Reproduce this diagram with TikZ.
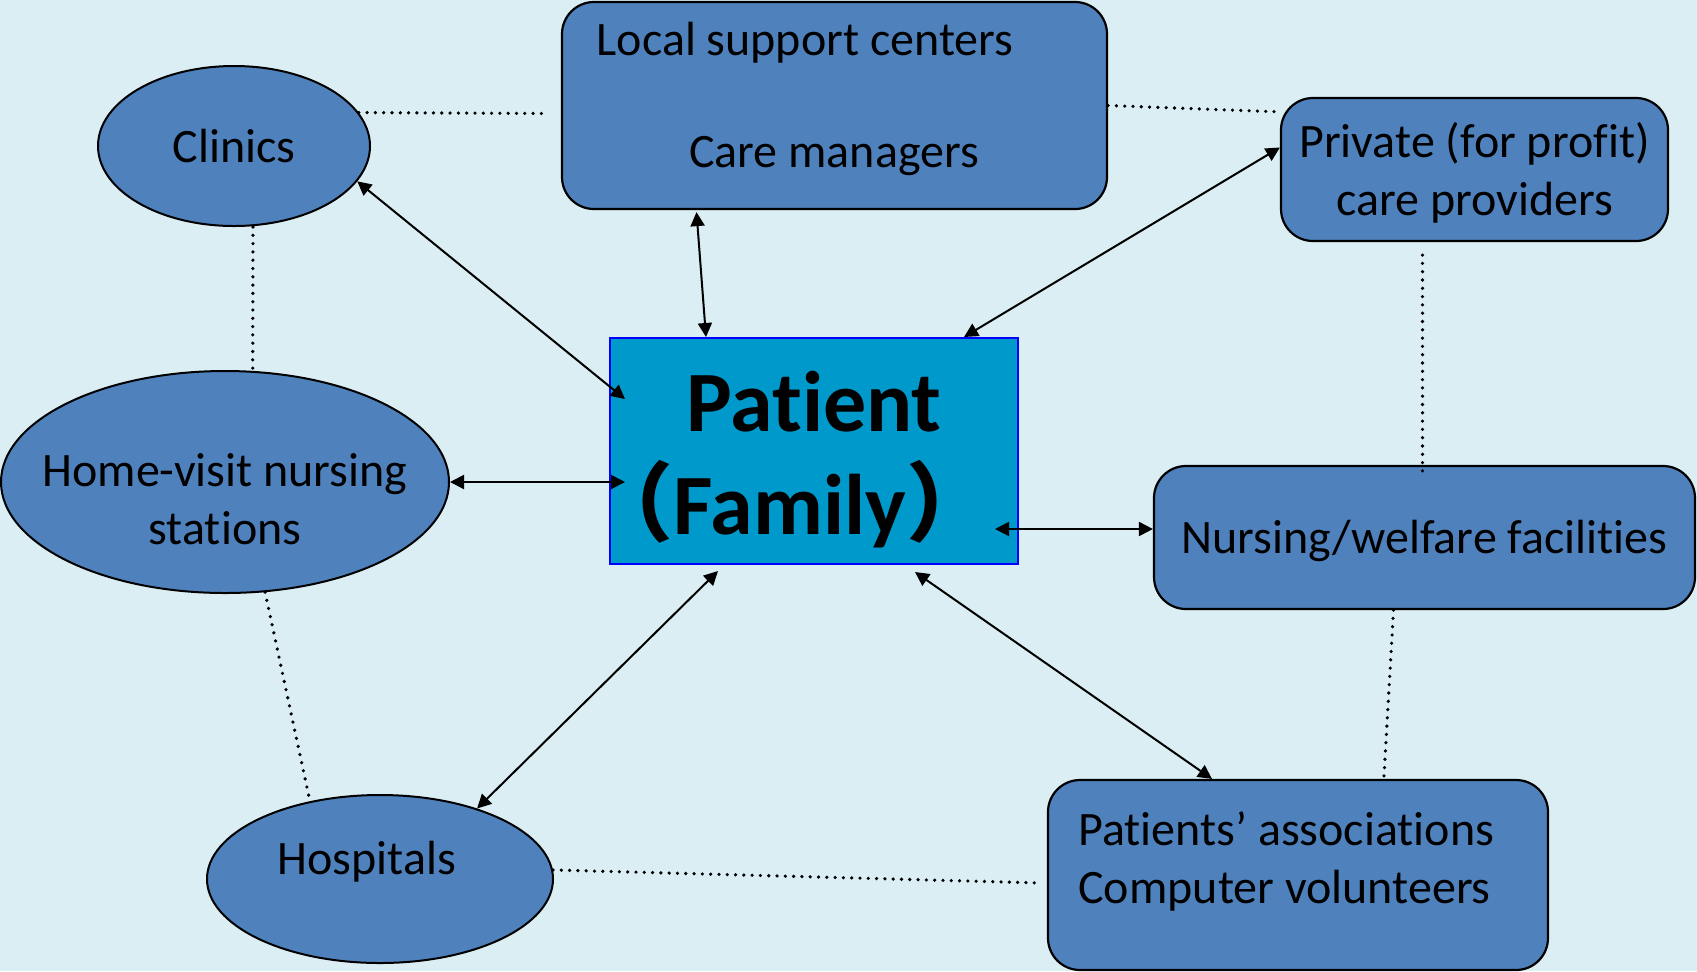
\documentclass[tikz,border=0pt]{standalone}
\usepackage{fontspec}
\setmainfont{Carlito}[Ligatures=NoCommon]
\newfontfamily\cjk{Noto Sans CJK SC}
\usetikzlibrary{shapes.geometric,arrows.meta}
\definecolor{bgblue}{HTML}{DAEEF3}
\definecolor{boxblue}{HTML}{4F81BD}
\definecolor{ptcyan}{HTML}{0099CC}
\begin{document}
\begin{tikzpicture}[x=0.5pt,y=-0.5pt,
  every node/.style={font=\fontsize{24}{29}\selectfont, inner sep=0pt},
  oval/.style={ellipse, draw, fill=boxblue, line width=1pt},
  rbox/.style={draw, fill=boxblue, rounded corners=16pt, line width=1.1pt},
  bigtext/.style={font=\fontsize{43}{51}\selectfont\bfseries},
  link/.style={<->, >={Triangle[length=7pt,width=7pt]}, line width=1pt},
  tie/.style={line cap=round, dash pattern=on 0pt off 4.15pt, line width=1.8pt}]
\useasboundingbox (0,0) rectangle (1697,971);
\fill[bgblue] (0,0) rectangle (1697,971);
\node[oval, minimum width=136pt, minimum height=80pt] (clinics) at (234,146) {Clinics};
\node[rbox, minimum width=272.5pt, minimum height=103.5pt] (local) at (834.5,105.5) {};
\node (localtop) at (805,43) {Local support centers};
\node (localcare) at (834,156) {Care managers};
\node[rbox, minimum width=193.5pt, minimum height=71.5pt] (private) at (1474.5,169.5) {};
\node[align=center] (privtext) at (1474.5,173) {Private (for profit)\\care providers};
\node[oval, minimum width=224pt, minimum height=111pt] (home) at (225,482) {};
\node[align=center] (hometext) at (225,499) {Home-visit nursing\\stations};
\node[draw=blue, fill=ptcyan, line width=1pt, minimum width=204pt, minimum height=113pt] (patient) at (814,451) {};
\node[bigtext] (pname) at (814,402) {Patient};
\node[bigtext] (pfamily) at (790,504) {{\cjk （}Family{\cjk ）}};
\node[rbox, minimum width=270.5pt, minimum height=71.5pt] (nursing) at (1424.5,537.5) {};
\node (nurstext) at (1424.5,541) {Nursing/welfare facilities};
\node[oval, minimum width=173pt, minimum height=84pt] (hospitals) at (380,879) {};
\node (hosptext) at (367,862) {Hospitals};
\node[rbox, minimum width=250pt, minimum height=95pt] (assoc) at (1298,875) {};
\node[anchor=west, align=left] (assoctext) at (1078,861) {Patients’ associations\\Computer volunteers};
\draw[link] (clinics.-16) -- ([shift={(16,62)}]patient.north west);
\draw[link] ([shift={(-138,2)}]local.south) -- ([shift={(-108,0)}]patient.north);
\draw[link] ([shift={(0,-22)}]private.west) -- ([shift={(-55,0)}]patient.north east);
\draw[link] (home.east) -- ([shift={(16,31)}]patient.west);
\draw[link] ([shift={(-24,78)}]patient.east) -- ([shift={(0,-8.5)}]nursing.west);
\draw[link] (hospitals.36) -- ([shift={(-96,6)}]patient.south);
\draw[link] ([shift={(101,7)}]patient.south) -- ([shift={(-86,0)}]assoc.north);
\draw[tie] (clinics.15) -- ([shift={(-15,8)}]local.west);
\draw[tie] (local.east) -- ([shift={(0,15)}]private.north west);
\draw[tie] ([shift={(19,0)}]clinics.south) -- (home.76);
\draw[tie] ([shift={(-52,13)}]private.south) -- ([shift={(-2,13)}]nursing.north);
\draw[tie] (home.-70) -- (hospitals.132);
\draw[tie] ([shift={(-31,0)}]nursing.south) -- ([shift={(86,-3)}]assoc.north);
\draw[tie] (hospitals.3) -- ([shift={(-5,8)}]assoc.west);
\end{tikzpicture}
\end{document}
